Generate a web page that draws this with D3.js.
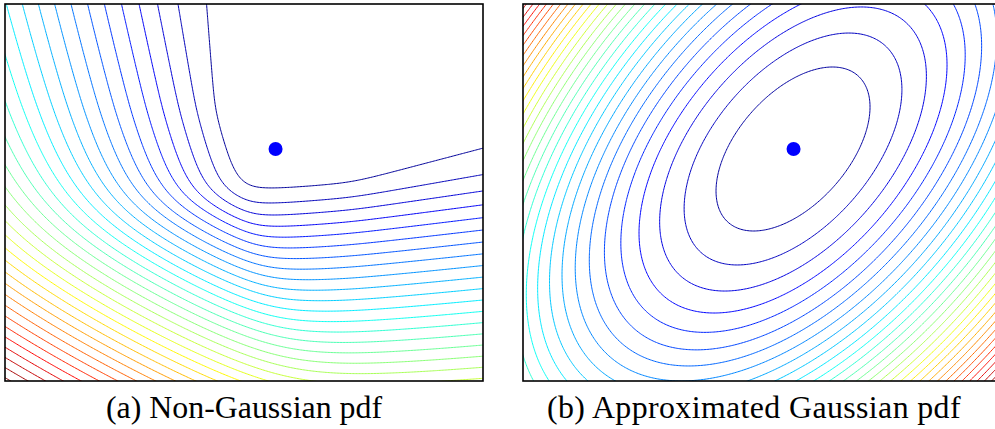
<!DOCTYPE html>
<html>
<head>
<meta charset="utf-8">
<script src="https://cdn.jsdelivr.net/npm/d3@7"></script>
<style>
  html, body { margin: 0; padding: 0; background: #fff; }
  svg { display: block; }
  .caption { font-family: "Liberation Serif", "DejaVu Serif", serif; fill: #000; }
</style>
</head>
<body>
<svg id="fig" width="995" height="429"></svg>
<script>
// ---- data -------------------------------------------------------------
// Both panels share the same state-space window (x right, y up).
const domainX = [0, 10];
const domainY = [0, 8];

// Mode / mean of the state estimate.
const modePoint = [5.66, 4.923];

// Non-Gaussian cost = left-hand one-sided term (A) + lower one-sided term (B).
// Each term is a smoothed ramp  (sqrt(t^2 + eps^2) + t) / 2  of a tilted
// coordinate t, divided by its asymptotic level spacing.
const tiltA = 0.2465;          // x shift per unit y of the A iso-lines
const refA = 4.079;            // A ramp origin, measured on the top edge
const spacingA = 0.3556;       // A level spacing (x units)
const epsA = [0.11, 0.55];     // A smoothing^2: floor, extra towards the top
const epsAStart = 5.75;        // y where the extra A smoothing starts

const tiltB = 0.0913;          // y rise per unit x of the B iso-lines
const refB = 4.552;            // B ramp origin, measured on the right edge
const spacingB = 0.244;        // B level spacing (y units)
const epsB = [0.135, 0.47];    // B smoothing^2: floor, extra towards the right
const epsBStart = 7.26;        // x where the extra B smoothing starts

const cornerRounding = 0.35;   // smoothing that grows with the other term's depth

// Gaussian approximation.
const gaussMean = [5.649, 4.923];
const gaussCov = [[2.595, 1.436], [1.436, 3.028]];

// Contour levels of the cost (negative log density).
const levelsA = d3.range(1, 46);
const levelsB = d3.range(1, 40);

// Sub-figure captions.
const captions = ["(a) Non-Gaussian pdf", "(b) Approximated Gaussian pdf"];

// ---- model functions ------------------------------------------------
const softRamp = (t, w) => (t / w > 30 ? t : w * Math.log1p(Math.exp(t / w)));
const smoothRelu = (t, e2) => (Math.sqrt(t * t + e2) + t) / 2;

function costNonGaussian(x, y) {
  const a = refA - (x - tiltA * (domainY[1] - y));
  const b = refB - y + tiltB * (x - domainX[1]);
  const aIn = softRamp(a, 0.1), bIn = softRamp(b, 0.1);
  const eA = epsA[0] + epsA[1] * softRamp((y - epsAStart) / (domainY[1] - epsAStart), 0.08)
           + (cornerRounding * bIn) ** 2;
  const eB = epsB[0] + epsB[1] * softRamp((x - epsBStart) / (domainX[1] - epsBStart), 0.08)
           + (cornerRounding * aIn) ** 2;
  return smoothRelu(a, eA) / spacingA + smoothRelu(b, eB) / spacingB;
}

const det = gaussCov[0][0] * gaussCov[1][1] - gaussCov[0][1] * gaussCov[1][0];
const prec = [[gaussCov[1][1] / det, -gaussCov[0][1] / det],
              [-gaussCov[1][0] / det, gaussCov[0][0] / det]];
function costGaussian(x, y) {
  const dx = x - gaussMean[0], dy = y - gaussMean[1];
  return prec[0][0] * dx * dx + 2 * prec[0][1] * dx * dy + prec[1][1] * dy * dy;
}

// MATLAB-style jet colour map
function jet(t) {
  const c = v => Math.max(0, Math.min(1, v));
  const r = c(Math.min(4 * t - 1.5, -4 * t + 4.5));
  const g = c(Math.min(4 * t - 0.5, -4 * t + 3.5));
  const b = c(Math.min(4 * t + 0.5, -4 * t + 2.5));
  return d3.rgb(r * 255, g * 255, b * 255).toString();
}

// ---- layout ------------------------------------------------------------
const svg = d3.select("#fig");
const panels = [
  { id: "a", left: 5, right: 483, cost: costNonGaussian, levels: levelsA, caption: captions[0], cx: 244, capWidth: 276 },
  { id: "b", left: 523, right: 1001, cost: costGaussian, levels: levelsB, caption: captions[1], cx: 754, capWidth: 414 }
];
const frameTop = 4, frameBottom = 381;

// sampling grid, slightly larger than the window so contour rings close outside it
const pad = 0.25;
const nx = 340, ny = 272;
const gx0 = domainX[0] - pad, gx1 = domainX[1] + pad;
const gy0 = domainY[0] - pad, gy1 = domainY[1] + pad;
const gdx = (gx1 - gx0) / (nx - 1), gdy = (gy1 - gy0) / (ny - 1);

panels.forEach(p => {
  const xs = d3.scaleLinear().domain(domainX).range([p.left, p.right]);
  const ys = d3.scaleLinear().domain(domainY).range([frameBottom, frameTop]);

  const values = new Float64Array(nx * ny);
  for (let j = 0; j < ny; j++) {
    const y = gy0 + j * gdy;
    for (let i = 0; i < nx; i++) values[j * nx + i] = p.cost(gx0 + i * gdx, y);
  }
  // colour limits from the cost range inside the window
  let vmin = Infinity, vmax = -Infinity;
  for (let j = 0; j < ny; j++) {
    const y = gy0 + j * gdy;
    if (y < domainY[0] || y > domainY[1]) continue;
    for (let i = 0; i < nx; i++) {
      const x = gx0 + i * gdx;
      if (x < domainX[0] || x > domainX[1]) continue;
      const v = values[j * nx + i];
      if (v < vmin) vmin = v;
      if (v > vmax) vmax = v;
    }
  }
  const levels = p.levels.filter(l => l < vmax);
  const color = l => jet((l - vmin) / (vmax - vmin));

  const contours = d3.contours().size([nx, ny]).thresholds(levels)(values);
  const proj = d3.geoTransform({
    point(x, y) {
      this.stream.point(xs(gx0 + (x - 0.5) * gdx), ys(gy0 + (y - 0.5) * gdy));
    }
  });
  const path = d3.geoPath(proj);

  const clipId = "clip-" + p.id;
  svg.append("clipPath").attr("id", clipId)
    .append("rect")
    .attr("x", xs(domainX[0])).attr("y", ys(domainY[1]))
    .attr("width", xs(domainX[1]) - xs(domainX[0]))
    .attr("height", ys(domainY[0]) - ys(domainY[1]));

  const g = svg.append("g").attr("clip-path", `url(#${clipId})`);
  g.selectAll("path.iso")
    .data(contours)
    .join("path")
    .attr("class", "iso")
    .attr("d", path)
    .attr("fill", "none")
    .attr("stroke", d => color(d.value))
    .attr("stroke-width", 1);

  g.append("circle")
    .attr("cx", xs(modePoint[0]))
    .attr("cy", ys(modePoint[1]))
    .attr("r", 7)
    .attr("fill", "#0000ff");

  svg.append("rect")
    .attr("x", xs(domainX[0])).attr("y", ys(domainY[1]))
    .attr("width", xs(domainX[1]) - xs(domainX[0]))
    .attr("height", ys(domainY[0]) - ys(domainY[1]))
    .attr("fill", "none")
    .attr("stroke", "#000")
    .attr("stroke-width", 1.6);

  svg.append("text")
    .attr("class", "caption")
    .datum(p)
    .attr("x", p.cx)
    .attr("y", 418)
    .attr("text-anchor", "middle")
    .attr("font-size", 28)
    .text(p.caption);
});

// size the captions: font from "(a) ...", letter spacing to fill each width
const capSel = svg.selectAll("text.caption");
const wA = capSel.nodes()[0].getComputedTextLength();
const fs = 28 * panels[0].capWidth / wA;
capSel.attr("font-size", fs.toFixed(2));
capSel.each(function (p) {
  const w = this.getComputedTextLength();
  const n = p.caption.length;
  const ls = (p.capWidth - w) / n;
  if (Math.abs(ls) > 0.05) d3.select(this).attr("letter-spacing", ls.toFixed(2));
});
</script>
</body>
</html>
